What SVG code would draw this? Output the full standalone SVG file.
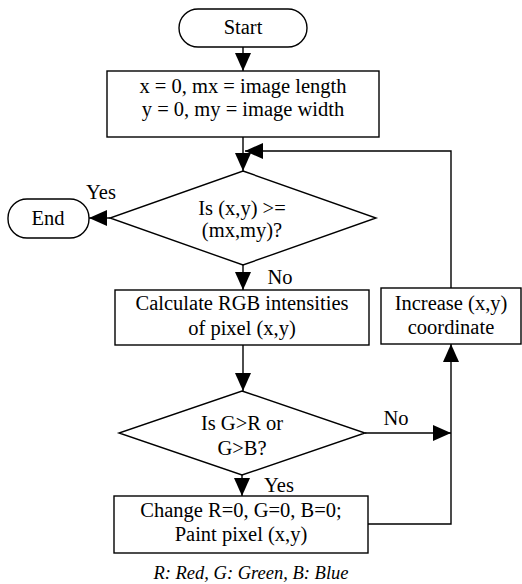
<svg xmlns="http://www.w3.org/2000/svg" width="522" height="584" viewBox="0 0 522 584">
<style>
.s{fill:#fff;stroke:#000;stroke-width:1.4}
.c{fill:none;stroke:#000;stroke-width:1.4}
text{font-family:"Liberation Serif","Times New Roman",serif;font-size:20.5px;fill:#000;text-anchor:middle}
.cap{font-style:italic;font-size:18.5px}
</style>
<defs>
<marker id="a" viewBox="0 0 18 16" refX="18" refY="8" markerWidth="18" markerHeight="16" markerUnits="userSpaceOnUse" orient="auto">
<path d="M0,0 L18,8 L0,16 z" fill="#000"/>
</marker>
</defs>
<g id="connectors">
<path class="c" d="M243,47 V71" marker-end="url(#a)"/>
<path class="c" d="M243,137 V171" marker-end="url(#a)"/>
<path class="c" d="M451,288 V151 H245" marker-end="url(#a)"/>
<path class="c" d="M110,218 H89" marker-end="url(#a)"/>
<path class="c" d="M243,265 V290" marker-end="url(#a)"/>
<path class="c" d="M243,345 V391" marker-end="url(#a)"/>
<path class="c" d="M242,475 V496" marker-end="url(#a)"/>
<path class="c" d="M365,433 H451" marker-end="url(#a)"/>
<path class="c" d="M368,524 H451 V344" marker-end="url(#a)"/>
<text x="101" y="199">Yes</text>
<text x="280" y="284">No</text>
<text x="396" y="425">No</text>
<text x="279" y="492">Yes</text>
</g>
<g id="start">
<rect class="s" x="179" y="9" width="128" height="38" rx="19"/>
<text x="243" y="34">Start</text>
</g>
<g id="init">
<rect class="s" x="107" y="71" width="272" height="66"/>
<text x="243" y="93">x = 0, mx = image length</text>
<text x="243" y="116">y = 0, my = image width</text>
</g>
<g id="check-end">
<path class="s" d="M243,171 L376,218 L243,265 L110,218 Z"/>
<text x="242" y="215">Is (x,y) &gt;=</text>
<text x="242" y="237">(mx,my)?</text>
</g>
<g id="end">
<rect class="s" x="8" y="199" width="81" height="39" rx="19"/>
<text x="48" y="225">End</text>
</g>
<g id="calc">
<rect class="s" x="115" y="290" width="254" height="55"/>
<text x="242" y="310">Calculate RGB intensities</text>
<text x="242" y="335">of pixel (x,y)</text>
</g>
<g id="increase">
<rect class="s" x="381" y="288" width="140" height="56"/>
<text x="451" y="310">Increase (x,y)</text>
<text x="451" y="334">coordinate</text>
</g>
<g id="check-green">
<path class="s" d="M242,391 L365,433 L242,475 L119,433 Z"/>
<text x="242" y="430">Is G&gt;R or</text>
<text x="242" y="455">G&gt;B?</text>
</g>
<g id="paint">
<rect class="s" x="114" y="496" width="254" height="57"/>
<text x="241" y="517">Change R=0, G=0, B=0;</text>
<text x="241" y="541">Paint pixel (x,y)</text>
</g>
<text class="cap" x="251" y="579">R: Red, G: Green, B: Blue</text>
</svg>
